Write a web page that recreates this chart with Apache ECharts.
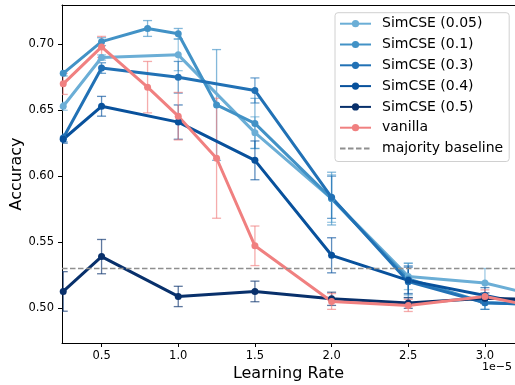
<!DOCTYPE html>
<html lang="en">
<head>
    <meta charset="UTF-8">
    <script src="https://cdn.jsdelivr.net/npm/echarts@6.0.0/dist/echarts.min.js"></script>
</head>
<body style="margin:0;">
<div id="chart" style="width:515px;height:385px;"></div>
<script type="text/javascript">

    // learning rates (x 1e-5)
    var lrCoarse = [0.25, 0.5, 1.0, 1.5, 2.0, 2.5, 3.0, 3.5];
    var lrFine = [0.25, 0.5, 0.8, 1.0, 1.25, 1.5, 2.0, 2.5, 3.0, 3.5];

    var simcse005 = [0.653, 0.690, 0.692, 0.633, 0.583, 0.524, 0.519, 0.505];
    var simcse005Err = [0.003, 0.002, 0.012, 0.012, 0.018, 0.010, 0.011, 0.005];

    var simcse01 = [0.678, 0.702, 0.712, 0.708, 0.654, 0.640, 0.583, 0.522, 0.504, 0.502];
    var simcse01Err = [0.002, 0.003, 0.006, 0.004, 0.042, 0.019, 0.020, 0.012, 0.005, 0.004];

    var simcse03 = [0.629, 0.682, 0.675, 0.665, 0.584, 0.520, 0.504, 0.502];
    var simcse03Err = [0.003, 0.004, 0.012, 0.0095, 0.016, 0.012, 0.005, 0.004];

    var simcse04 = [0.628, 0.653, 0.641, 0.612, 0.540, 0.521, 0.5095, 0.498];
    var simcse04Err = [0.003, 0.0075, 0.013, 0.0147, 0.0133, 0.010, 0.006, 0.005];

    var simcse05 = [0.5126, 0.539, 0.5088, 0.5126, 0.507, 0.5038, 0.5075, 0.5057];
    var simcse05Err = [0.015, 0.013, 0.0077, 0.0078, 0.005, 0.004, 0.004, 0.004];

    var vanilla = [0.670, 0.698, 0.6675, 0.6455, 0.6136, 0.5472, 0.505, 0.502, 0.5088, 0.497];
    var vanillaErr = [0.008, 0.008, 0.0195, 0.018, 0.0455, 0.015, 0.006, 0.0046, 0.005, 0.005];

    var baseline = 0.53;

    var xTicks = [0.5, 1.0, 1.5, 2.0, 2.5, 3.0];
    var yTicks = [0.50, 0.55, 0.60, 0.65, 0.70];
    var xMin = 0.242, xMax = 3.196;
    var yMin = 0.4735, yMax = 0.7298;

    var models = [
        { name: "SimCSE (0.05)", x: lrCoarse, y: simcse005, err: simcse005Err, color: "#6baed6" },
        { name: "SimCSE (0.1)", x: lrFine, y: simcse01, err: simcse01Err, color: "#4292c6" },
        { name: "SimCSE (0.3)", x: lrCoarse, y: simcse03, err: simcse03Err, color: "#2171b5" },
        { name: "SimCSE (0.4)", x: lrCoarse, y: simcse04, err: simcse04Err, color: "#08519c" },
        { name: "SimCSE (0.5)", x: lrCoarse, y: simcse05, err: simcse05Err, color: "#08306b" },
        { name: "vanilla", x: lrFine, y: vanilla, err: vanillaErr, color: "#f08080" }
    ];

    var font = "DejaVu Sans";

    function errorBars(color) {
        return function (params, api) {
            var x = api.value(0);
            var lo = api.coord([x, api.value(1)]);
            var hi = api.coord([x, api.value(2)]);
            var w = 4.5;
            var style = { stroke: color, lineWidth: 1.3, opacity: 0.65 };
            return {
                type: "group",
                children: [
                    { type: "line", shape: { x1: lo[0], y1: lo[1], x2: hi[0], y2: hi[1] }, style: style },
                    { type: "line", shape: { x1: lo[0] - w, y1: lo[1], x2: lo[0] + w, y2: lo[1] }, style: style },
                    { type: "line", shape: { x1: hi[0] - w, y1: hi[1], x2: hi[0] + w, y2: hi[1] }, style: style }
                ]
            };
        };
    }

    var series = [];
    models.forEach(function (m) {
        series.push({
            type: "custom",
            name: m.name + " err",
            renderItem: errorBars(m.color),
            encode: { x: 0, y: [1, 2] },
            clip: true,
            data: m.x.map(function (x, i) { return [x, m.y[i] - m.err[i], m.y[i] + m.err[i]]; })
        });
        series.push({
            type: "line",
            name: m.name,
            data: m.x.map(function (x, i) { return [x, m.y[i]]; }),
            symbol: "circle",
            symbolSize: 7,
            showAllSymbol: true,
            lineStyle: { color: m.color, width: 3 },
            itemStyle: { color: m.color },
            emphasis: { disabled: true }
        });
    });
    series.push({
        type: "line",
        name: "majority baseline",
        data: [[xMin, baseline], [xMax, baseline]],
        symbol: "none",
        lineStyle: { color: "#8f8f8f", width: 1.6, type: [5.5, 2.5] },
        itemStyle: { color: "#8f8f8f" },
        emphasis: { disabled: true }
    });

    var legendItems = models.map(function (m) { return m.name; });
    legendItems.push({ name: "majority baseline", itemStyle: { opacity: 0 } });

    var chart = echarts.init(document.getElementById("chart"));
    var option = {
        animation: false,
        textStyle: { fontFamily: font },
        grid: { left: 62, right: 0, top: 5, bottom: 42, outerBoundsMode: "none" },
        legend: {
            data: legendItems,
            orient: "vertical",
            left: 335,
            top: 12.7,
            itemWidth: 31,
            itemHeight: 9,
            itemGap: 6.8,
            padding: [4, 6, 6, 4],
            borderColor: "#d0d0d0",
            borderWidth: 1,
            borderRadius: 3,
            backgroundColor: "rgba(255,255,255,0.8)",
            textStyle: { fontFamily: font, fontSize: 14, color: "#000", lineHeight: 14, padding: [0, 0, 0, 6] }
        },
        xAxis: [{
            type: "value",
            min: xMin,
            max: xMax,
            name: "Learning Rate",
            nameLocation: "middle",
            nameGap: 23,
            nameMoveOverlap: false,
            nameTextStyle: { fontFamily: font, fontSize: 16, color: "#000", verticalAlign: "top" },
            axisLine: { lineStyle: { color: "#000", width: 1 } },
            axisTick: { customValues: xTicks, length: 4, lineStyle: { color: "#000" } },
            axisLabel: {
                customValues: xTicks, margin: 7, fontSize: 11.5, color: "#000", fontFamily: font,
                formatter: function (v) { return v.toFixed(1); }
            },
            splitLine: { show: false }
        }, {
            type: "value",
            position: "top",
            min: xMin,
            max: xMax,
            axisLine: { show: true, lineStyle: { color: "#000", width: 1 } },
            axisTick: { show: false },
            axisLabel: { show: false },
            splitLine: { show: false }
        }],
        yAxis: {
            type: "value",
            min: yMin,
            max: yMax,
            name: "Accuracy",
            nameLocation: "middle",
            nameGap: 37,
            nameMoveOverlap: false,
            nameTextStyle: { fontFamily: font, fontSize: 16, color: "#000" },
            axisLine: { show: true, lineStyle: { color: "#000", width: 1 } },
            axisTick: { show: true, customValues: yTicks, length: 4, lineStyle: { color: "#000" } },
            axisLabel: {
                customValues: yTicks, margin: 8, fontSize: 11.5, color: "#000", fontFamily: font,
                formatter: function (v) { return v.toFixed(2); }
            },
            splitLine: { show: false }
        },
        graphic: [{
            type: "text",
            right: 3,
            top: 362,
            style: { text: "1e\u22125", font: "11px 'DejaVu Sans'", fill: "#000" }
        }],
        series: series
    };
    chart.setOption(option);
</script>
</body>
</html>
